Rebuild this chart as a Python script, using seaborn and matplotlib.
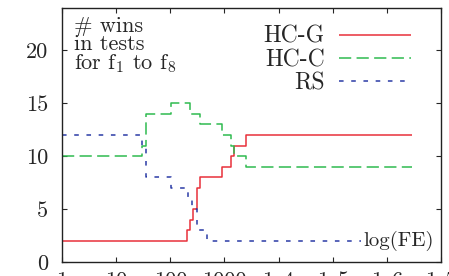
import numpy as np
import pandas as pd
import matplotlib
matplotlib.use("Agg")
import matplotlib.pyplot as plt
import seaborn as sns

# step curves: function evaluations where the count changes, and the count from there on
hcg_fe = [1, 206, 232, 259, 312, 355, 918, 1349, 1531, 2555, 2.9e6]
hcg_wins = [2, 3, 4, 5, 7, 8, 9, 10, 11, 12, 12]

hcc_fe = [1, 30, 36, 104, 235, 359, 918, 1349, 1531, 2555, 2.9e6]
hcc_wins = [10, 11, 14, 15, 14, 13, 12, 11, 10, 9, 9]

rs_fe = [1, 30, 36, 104, 215, 255, 318, 485, 2.9e6]
rs_wins = [12, 11, 8, 7, 6, 5, 3, 2, 2]

x_ticks = [1, 10, 100, 1000, 1e4, 1e5, 1e6, 1e7]
x_ticklabels = ["1", "10", "100", "1000", "1e4", "1e5", "1e6", "1e7"]
y_ticks = [0, 5, 10, 15, 20]

sns.set_style("ticks")
plt.rcParams["font.family"] = ["cmr10", "DejaVu Serif"]
plt.rcParams["mathtext.fontset"] = "cm"
plt.rcParams["axes.unicode_minus"] = False

fig = plt.figure(figsize=(4.49, 2.76), dpi=100)
ax = fig.add_axes([62 / 449, 14 / 276, 379 / 449, 254 / 276])

series = [
    ("HC-G", hcg_fe, hcg_wins, "#e8303a", (0, ())),
    ("HC-C", hcc_fe, hcc_wins, "#2fbb4f", (0, (8, 3.5))),
    ("RS", rs_fe, rs_wins, "#2a3ba6", (0, (3, 5))),
]
for name, fe, wins, col, ls in series:
    df = pd.DataFrame({"fe": fe, "wins": wins})
    sns.lineplot(data=df, x="fe", y="wins", ax=ax, drawstyle="steps-post",
                 color=col, linestyle=ls, linewidth=1.1, label=name, sort=False)

ax.set_xscale("log")
ax.set_xlim(1, 1e7)
ax.set_ylim(0, 24)
ax.set_xticks(x_ticks)
ax.set_xticklabels(x_ticklabels)
ax.set_yticks(y_ticks)
ax.set_xlabel("")
ax.set_ylabel("")
ax.tick_params(which="both", direction="in", top=True, right=True, labelsize=16)
ax.tick_params(which="major", length=3.5, width=0.8)
ax.tick_params(which="minor", length=1.8, width=0.6)
ax.tick_params(axis="y", pad=10)
ax.tick_params(axis="x", pad=7)
for s in ax.spines.values():
    s.set_linewidth(1.0)
    s.set_color("#222222")

leg = ax.legend(loc="upper right", bbox_to_anchor=(0.921, 0.93), frameon=False,
                markerfirst=False, fontsize=17, handlelength=3.05,
                handletextpad=0.6, labelspacing=0.05, borderaxespad=0, borderpad=0)
for t in leg.get_texts():
    t.set_ha("right")

ax.text(0.032, 0.968, "# wins\nin tests\nfor f$_1$ to f$_8$", transform=ax.transAxes,
        ha="left", va="top", fontsize=16, linespacing=0.92)
ax.text(0.98, 0.083, "log(FE)", transform=ax.transAxes, ha="right", va="center",
        fontsize=15, bbox=dict(facecolor="white", edgecolor="none", pad=1.5))

fig.savefig("out.png", dpi=100)
